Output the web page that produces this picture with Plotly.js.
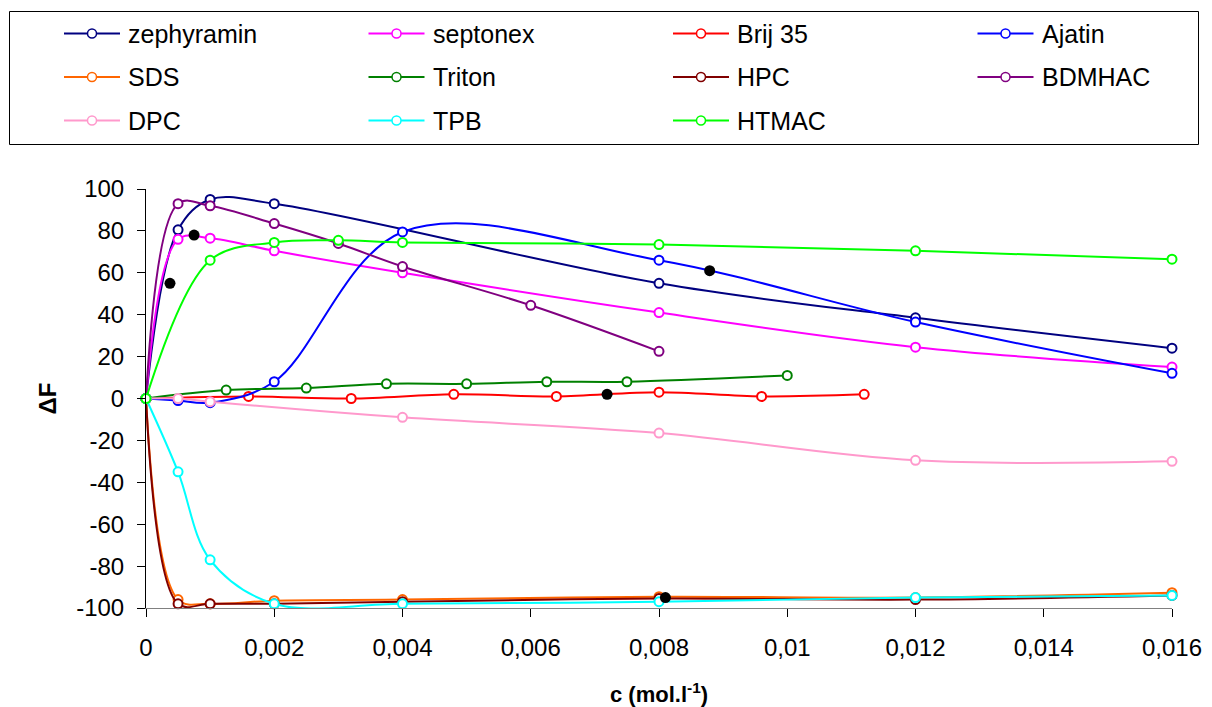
<!DOCTYPE html>
<html><head><meta charset="utf-8">
<script src="https://cdn.plot.ly/plotly-3.0.1.min.js"></script>
<style>html,body{margin:0;padding:0;background:#fff;overflow:hidden}</style>
</head><body><div id="chart" style="width:1212px;height:707px"></div>
<script>
// ---- data ----
const seriesNames = ["zephyramin","septonex","Brij 35","Ajatin","SDS","Triton","HPC","BDMHAC","DPC","TPB","HTMAC"];
const seriesColors = ["#000080","#FF00FF","#FF0000","#0000FF","#FF6600","#008000","#800000","#800080","#FF99CC","#00FFFF","#00FF00"];

const xZephyramin = [0,0.0005,0.001,0.002,0.008,0.012,0.016];
const yZephyramin = [0,80.5,95,93,55,38.5,24];
const xSeptonex = [0,0.0005,0.001,0.002,0.004,0.008,0.012,0.016];
const ySeptonex = [0,76,76.5,70.5,60,41,24.5,15];
const xBrij = [0,0.0016,0.0032,0.0048,0.0064,0.008,0.0096,0.0112];
const yBrij = [0,1,0,2,1,3,1,2];
const xAjatin = [0,0.0005,0.001,0.002,0.004,0.008,0.012,0.016];
const yAjatin = [0,-1,-2,8,79.5,66,36.5,12];
const xSDS = [0,0.0005,0.001,0.002,0.004,0.008,0.012,0.016];
const ySDS = [0,-96,-98,-96.5,-96,-94.6,-95,-92.7];
const xTriton = [0,0.00125,0.0025,0.00375,0.005,0.00625,0.0075,0.01];
const yTriton = [0,4,5,7,7,8,8,11];
const xHPC = [0,0.0005,0.001,0.002,0.004,0.008,0.012,0.016];
const yHPC = [0,-98,-98,-98,-97,-95.5,-96,-94];
const xBDMHAC = [0,0.0005,0.001,0.002,0.003,0.004,0.006,0.008];
const yBDMHAC = [0,93,92,83.5,74,63,44.5,22.5];
const xDPC = [0,0.0005,0.001,0.004,0.008,0.012,0.016];
const yDPC = [0,0,-1.5,-9,-16.5,-29.5,-30];
const xTPB = [0,0.0005,0.001,0.002,0.004,0.008,0.012,0.016];
const yTPB = [0,-35,-77,-98,-98,-97,-95,-94];
const xHTMAC = [0,0.001,0.002,0.003,0.004,0.008,0.012,0.016];
const yHTMAC = [0,66,74.5,75.5,74.5,73.5,70.5,66.5];
// filled black points
const xCMC = [0.000374,0.00075,0.00719,0.0081,0.00879];
const yCMC = [55,78,2,-95,61];

const xTickVals = [0,0.002,0.004,0.006,0.008,0.01,0.012,0.014,0.016];
const xTickText = ["0","0,002","0,004","0,006","0,008","0,01","0,012","0,014","0,016"];
const yTickVals = [-100,-80,-60,-40,-20,0,20,40,60,80,100];
const yTickText = ["-100","-80","-60","-40","-20","0","20","40","60","80","100"];

const xs = [xZephyramin,xSeptonex,xBrij,xAjatin,xSDS,xTriton,xHPC,xBDMHAC,xDPC,xTPB,xHTMAC];
const ys = [yZephyramin,ySeptonex,yBrij,yAjatin,ySDS,yTriton,yHPC,yBDMHAC,yDPC,yTPB,yHTMAC];

// ---- geometry ----
const W = 1212, H = 707;
const L = 146, R = 1172, T = 189, B = 608;
const px2x = p => (p - L) / (R - L);
const px2y = p => (B - p) / (B - T);

const traces = seriesNames.map((n, i) => ({
  type: 'scatter', mode: 'lines+markers', name: n, x: xs[i], y: ys[i],
  line: {color: seriesColors[i], width: 2, shape: 'spline', smoothing: 1},
  marker: {symbol: 'circle', size: 9, color: '#FFFFFF', line: {color: seriesColors[i], width: 2}},
  showlegend: false, cliponaxis: false
}));
traces.push({type: 'scatter', mode: 'markers', name: 'cmc', x: xCMC, y: yCMC,
  marker: {size: 11, color: '#000000'}, showlegend: false, cliponaxis: false});

// ---- custom legend ----
const shapes = [{type: 'rect', xref: 'paper', yref: 'paper',
  x0: px2x(9.5), x1: px2x(1198.5), y0: px2y(144.5), y1: px2y(11.5),
  line: {color: '#000000', width: 1}, fillcolor: 'rgba(0,0,0,0)'}];
const annotations = [];
const rowsY = [33.5, 77, 120.5];
seriesNames.forEach((n, i) => {
  const col = i % 4, row = Math.floor(i / 4);
  const off = col * 304.5;
  const yy = px2y(rowsY[row]);
  shapes.push({type: 'line', xref: 'paper', yref: 'paper', x0: px2x(64 + off), x1: px2x(120 + off), y0: yy, y1: yy,
    line: {color: seriesColors[i], width: 2}});
  shapes.push({type: 'circle', xref: 'paper', yref: 'paper', xsizemode: 'pixel', ysizemode: 'pixel',
    xanchor: px2x(92 + off), yanchor: yy, x0: -4.5, x1: 4.5, y0: -4.5, y1: 4.5,
    fillcolor: '#FFFFFF', line: {color: seriesColors[i], width: 1.5}});
  annotations.push({xref: 'paper', yref: 'paper', x: px2x(126 + off), y: yy, xanchor: 'left', yanchor: 'middle',
    text: n, showarrow: false, font: {family: 'Liberation Sans, Arial, sans-serif', size: 25, color: '#000'}});
});

const layout = {
  width: W, height: H,
  margin: {l: L, r: W - R, t: T, b: H - B, pad: 0},
  paper_bgcolor: '#FFFFFF', plot_bgcolor: '#FFFFFF',
  font: {family: 'Liberation Sans, Arial, sans-serif', size: 24, color: '#000'},
  showlegend: false,
  xaxis: {range: [0, 0.016], tickvals: xTickVals, ticktext: xTickText, showgrid: false, zeroline: false,
    showline: true, linecolor: '#808080', linewidth: 1, ticks: 'outside', ticklen: 8, tickcolor: '#000', tickwidth: 1,
    ticklabelstandoff: 10, automargin: false, tickfont: {size: 24},
    title: {text: '<b>c (mol.l<sup>-1</sup>)</b>', font: {size: 22}, standoff: 28}},
  yaxis: {range: [-100, 100], tickvals: yTickVals, ticktext: yTickText, showgrid: false, zeroline: false,
    showline: true, linecolor: '#000', linewidth: 1, ticks: 'outside', ticklen: 8, tickcolor: '#000', tickwidth: 1,
    ticklabelstandoff: 8, automargin: false, tickfont: {size: 24},
    title: {text: '<b>ΔF</b>', font: {size: 24}, standoff: 12}},
  shapes: shapes, annotations: annotations
};
Plotly.newPlot('chart', traces, layout, {displayModeBar: false, staticPlot: true});
</script>
</body></html>
